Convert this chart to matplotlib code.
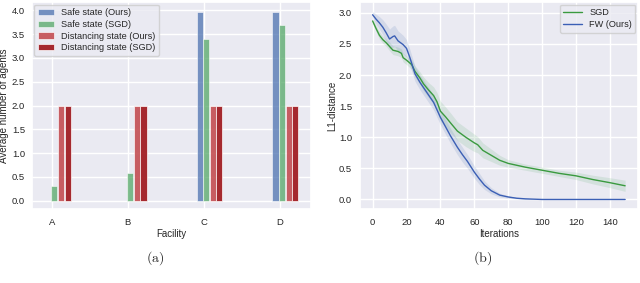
import numpy as np
import matplotlib.pyplot as plt
import seaborn as sns

# (a) average number of agents per facility
facilities = ['A', 'B', 'C', 'D']
safe_ours = [0.0, 0.0, 3.97, 3.97]
safe_sgd = [0.30, 0.58, 3.40, 3.70]
dist_ours = [2.0, 2.0, 2.0, 2.0]
dist_sgd = [2.0, 2.0, 2.0, 2.0]

# (b) L1-distance over iterations
it_fw = [0, 2, 4, 6, 8, 10, 12, 13, 15, 18, 20, 22, 25, 28, 30, 33, 36, 40, 43, 46,
         50, 53, 56, 60, 63, 66, 70, 75, 80, 85, 90, 100, 110, 120, 130, 140, 149]
l1_fw = [2.97, 2.90, 2.84, 2.77, 2.68, 2.58, 2.62, 2.63, 2.55, 2.49, 2.43, 2.28, 2.02,
         1.88, 1.80, 1.68, 1.56, 1.32, 1.17, 1.02, 0.84, 0.72, 0.61, 0.44, 0.33, 0.23,
         0.14, 0.07, 0.04, 0.02, 0.01, 0.0, 0.0, 0.0, 0.0, 0.0, 0.0]
sd_fw = [0.05, 0.08, 0.10, 0.12, 0.14, 0.16, 0.17, 0.17, 0.16, 0.15, 0.14, 0.13, 0.12,
         0.12, 0.12, 0.12, 0.12, 0.12, 0.12, 0.12, 0.12, 0.12, 0.11, 0.10, 0.09, 0.07,
         0.05, 0.03, 0.02, 0.01, 0.01, 0.0, 0.0, 0.0, 0.0, 0.0, 0.0]

it_sgd = [0, 2, 4, 6, 8, 10, 12, 15, 17, 18, 20, 23, 25, 28, 30, 33, 36, 38, 40, 43,
          46, 50, 55, 60, 62, 65, 70, 75, 80, 90, 100, 110, 120, 130, 140, 149]
l1_sgd = [2.87, 2.75, 2.64, 2.57, 2.52, 2.46, 2.40, 2.38, 2.35, 2.28, 2.24, 2.17, 2.06,
          1.95, 1.86, 1.76, 1.67, 1.57, 1.42, 1.33, 1.23, 1.10, 1.00, 0.91, 0.88, 0.79,
          0.71, 0.63, 0.58, 0.52, 0.47, 0.42, 0.38, 0.32, 0.27, 0.22]
sd_sgd = [0.04, 0.05, 0.06, 0.06, 0.06, 0.07, 0.07, 0.07, 0.07, 0.07, 0.07, 0.08, 0.09,
          0.10, 0.11, 0.12, 0.14, 0.15, 0.16, 0.16, 0.16, 0.15, 0.15, 0.14, 0.13, 0.12,
          0.10, 0.08, 0.06, 0.05, 0.05, 0.05, 0.06, 0.07, 0.08, 0.09]

sns.set_theme(style='darkgrid')
plt.rcParams['font.family'] = ['Liberation Sans', 'DejaVu Sans']
plt.rcParams['mathtext.fontset'] = 'cm'

fig = plt.figure(figsize=(6.4, 2.83), dpi=100)
ax1 = fig.add_axes([0.05, 0.262, 0.436, 0.73])
ax2 = fig.add_axes([0.5625, 0.262, 0.434, 0.73])

x = np.arange(len(facilities))
w = 0.08
step = 0.087
series = [
    (safe_ours, 'Safe state (Ours)', '#4C72B0', 0.75),
    (safe_sgd, 'Safe state (SGD)', '#55A868', 0.75),
    (dist_ours, 'Distancing state (Ours)', '#C44E52', 0.9),
    (dist_sgd, 'Distancing state (SGD)', '#A21E24', 0.95),
]
for i, (vals, lab, col, a) in enumerate(series):
    ax1.bar(x - 0.053 + i * step, vals, width=w, color=col, alpha=a, label=lab,
            edgecolor='white', linewidth=0.5)
ax1.set_xticks(x)
ax1.set_xticklabels(facilities)
ax1.set_yticks(np.arange(0, 4.01, 0.5))
ax1.set_ylim(-0.17, 4.17)
ax1.set_xlabel('Facility', fontsize=7, labelpad=1.5)
ax1.set_ylabel('Average number of agents', fontsize=7)
ax1.yaxis.set_label_coords(-0.082, 0.5)
ax1.tick_params(axis='y', length=0, labelsize=6.8, pad=5)
ax1.tick_params(axis='x', length=0, labelsize=6.8, pad=6.5)
ax1.legend(loc='upper left', fontsize=6.6, borderaxespad=0.25, handlelength=1.7,
           handletextpad=0.8, labelspacing=0.3)

ax2.plot(it_sgd, l1_sgd, color='#3a9a3f', lw=1.0, label='SGD')
ax2.fill_between(it_sgd, np.array(l1_sgd) - sd_sgd, np.array(l1_sgd) + sd_sgd,
                 color='#55A868', alpha=0.15, lw=0)
ax2.plot(it_fw, l1_fw, color='#3b5fb5', lw=1.0, label='FW (Ours)')
ax2.fill_between(it_fw, np.array(l1_fw) - sd_fw, np.array(l1_fw) + sd_fw,
                 color='#4C72B0', alpha=0.15, lw=0)
ax2.set_yticks(np.arange(0, 3.01, 0.5))
ax2.set_xticks(np.arange(0, 141, 20))
ax2.set_xlabel('Iterations', fontsize=7, labelpad=1.5)
ax2.set_ylabel('L1-distance', fontsize=7)
ax2.yaxis.set_label_coords(-0.083, 0.5)
ax2.tick_params(axis='y', length=0, labelsize=6.8, pad=5.8)
ax2.tick_params(axis='x', length=0, labelsize=6.8, pad=6.5)
ax2.legend(loc='upper right', fontsize=6.6, borderaxespad=0.25, handlelength=2.0,
           handletextpad=0.8, labelspacing=0.3)

fig.text(155 / 640, 1 - 258 / 283, r'$\mathrm{(a)}$', ha='center', va='center', fontsize=10)
fig.text(483 / 640, 1 - 258 / 283, r'$\mathrm{(b)}$', ha='center', va='center', fontsize=10)

fig.savefig('out.png', dpi=100)
